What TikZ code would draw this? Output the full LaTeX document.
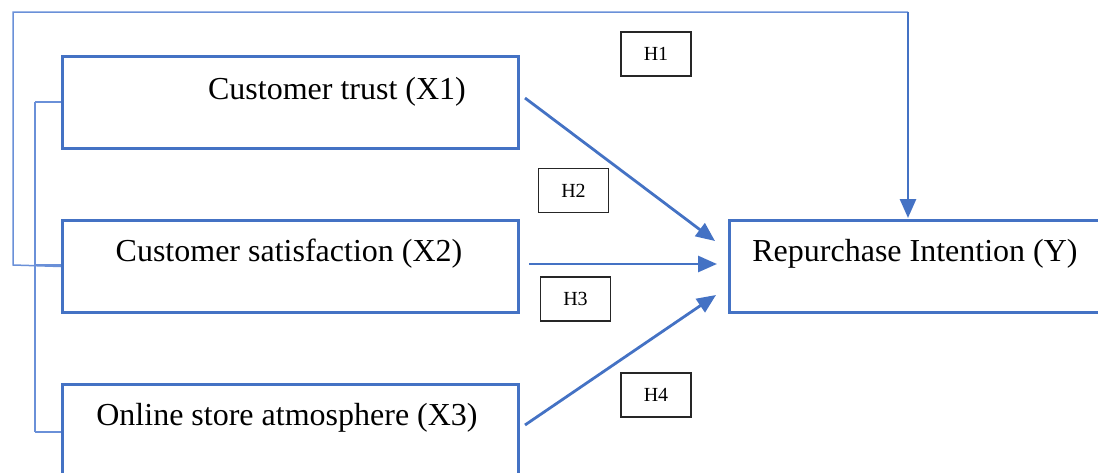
\documentclass[tikz,border=0pt]{standalone}
\usepackage{fontspec}
\setmainfont{Liberation Serif}
\usetikzlibrary{arrows.meta}
\definecolor{boxblue}{HTML}{4472C4}
\definecolor{lineblue}{HTML}{6A90D8}
\begin{document}
\begin{tikzpicture}[x=1pt,y=-1pt,
  box/.style={draw=boxblue,line width=3pt,inner sep=0pt,anchor=north west},
  lbl/.style={anchor=base,inner sep=0pt,font=\fontsize{32}{38}\selectfont},
  hbox/.style={draw=black!85,line width=1.2pt,minimum width=70pt,minimum height=44pt,inner sep=0pt,font=\fontsize{20}{24}\selectfont},
  arr/.style={draw=boxblue,line width=2.8pt,-{Triangle[length=19pt,width=16pt]}},
  brk/.style={draw=lineblue,line width=1.5pt}]
\useasboundingbox (0,0) rectangle (1098,472);
\clip (0,0) rectangle (1098,472);
% boxes
\node[box,minimum width=456pt,minimum height=92pt] (x1) at (61,55) {};
\node[box,minimum width=456pt,minimum height=92pt] (x2) at (61,219) {};
\node[box,minimum width=456pt,minimum height=120pt] (x3) at (61,383) {};
\node[box,minimum width=420pt,minimum height=92pt] (y) at (728,219) {};
% labels
\node[lbl] (t1) at (337,99) {Customer trust (X1)};
\node[lbl] (t2) at (289,261) {Customer satisfaction (X2)};
\node[lbl] (t3) at (287,425) {Online store atmosphere (X3)};
\node[lbl] (ty) at (915,261) {Repurchase Intention (Y)};
% hypothesis boxes
\node[hbox] (h1) at (656,54) {H1};
\node[hbox] (h2) at (573.5,190.5) {H2};
\node[hbox] (h3) at (575.5,299) {H3};
\node[hbox] (h4) at (656,395) {H4};
% arrow coordinates
\coordinate (a1s) at (525,98);
\coordinate (a1e) at (715,241);
\coordinate (a2s) at (529,264);
\coordinate (a2e) at (717,264);
\coordinate (a3s) at (525,425);
\coordinate (a3e) at (716,295);
\draw[arr] (a1s) -- (a1e);
\draw[arr] (a2s) -- (a2e);
\draw[arr] (a3s) -- (a3e);
% H1 outer path
\coordinate (o1) at (13,265);
\coordinate (o2) at (13,12);
\coordinate (o3) at (908,12);
\coordinate (o4) at (908,218);
\draw[brk] (x2.west) -- (o1) -- (o2) -- (o3);
\draw[arr] (o3) -- (o4);
% bracket
\coordinate (b1) at (35,102);
\coordinate (b2) at (35,265);
\coordinate (b3) at (35,432);
\draw[brk] (b1) -- (b3);
\draw[brk] (b1) -- (b1 -| x1.west);
\draw[brk] (b2) -- (b2 -| x2.west);
\draw[brk] (b3) -- (b3 -| x3.west);
\end{tikzpicture}
\end{document}
